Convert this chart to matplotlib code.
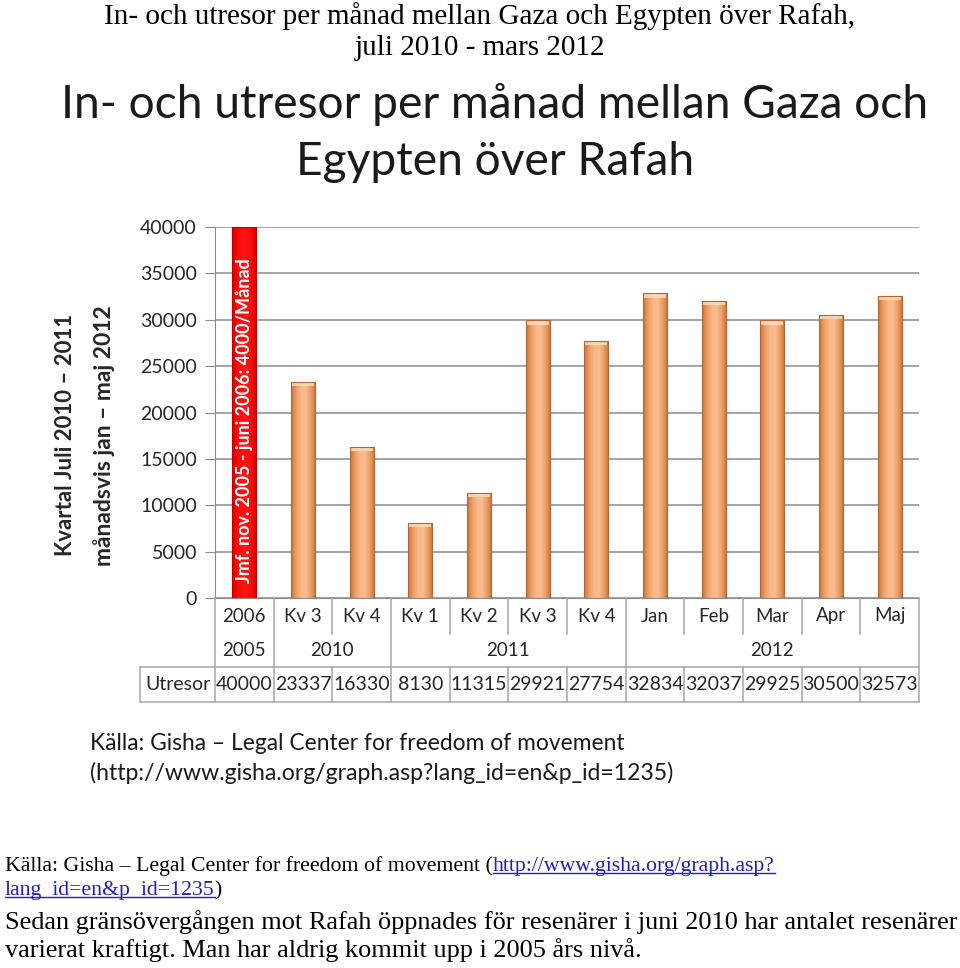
import matplotlib
matplotlib.use("Agg")
import matplotlib.pyplot as plt
import numpy as np
from matplotlib.colors import LinearSegmentedColormap
from matplotlib.lines import Line2D
from matplotlib.transforms import blended_transform_factory

# ── Data ──
categories = ["2006", "Kv 3", "Kv 4", "Kv 1", "Kv 2", "Kv 3", "Kv 4",
              "Jan", "Feb", "Mar", "Apr", "Maj"]
utresor = [40000, 23337, 16330, 8130, 11315, 29921, 27754,
           32834, 32037, 29925, 30500, 32573]
year_groups = [("2005", 0, 0), ("2010", 1, 2), ("2011", 3, 6), ("2012", 7, 11)]
y_ticks = [0, 5000, 10000, 15000, 20000, 25000, 30000, 35000, 40000]

W, H = 960, 968
SANS = "Lato"
SERIF = "Liberation Serif"
GRID = "#8C8C8C"
TABLE = "#A6A6A6"

fig = plt.figure(figsize=(W / 100, H / 100), dpi=100)
fig.patch.set_facecolor("white")


def fx(px):
    return px / W


def fy(py):
    return 1 - py / H


# plot area in pixels: x 215..919, y 227 (40000) .. 598 (0)
ax = fig.add_axes([fx(215), fy(598), fx(919) - fx(215), fy(227) - fy(598)])
ax.set_xlim(-0.5, len(categories) - 0.5)
ax.set_ylim(0, 40000)
for s in ["top", "right"]:
    ax.spines[s].set_visible(False)
ax.spines["left"].set_color(GRID)
ax.spines["bottom"].set_color(GRID)
ax.set_yticks(y_ticks)
ax.set_yticklabels([str(v) for v in y_ticks], fontsize=14, family=SANS,
                   color="#262626")
ax.tick_params(axis="y", length=7, color=GRID, pad=6)
ax.set_xticks([])
ax.yaxis.grid(True, color=GRID, linewidth=1.1)
ax.set_axisbelow(True)

# ── Bars ──
bar_w = 0.41
bars = ax.bar(range(len(utresor)), utresor, width=bar_w, zorder=2,
              color="#F4A470", edgecolor="#B0663A", linewidth=0.8)
orange = LinearSegmentedColormap.from_list(
    "orange", ["#C8733E", "#EF9D62", "#F8B88A", "#F9BC90", "#EF9D62", "#C8733E"])
red = LinearSegmentedColormap.from_list(
    "red", ["#D80000", "#FF0A0A", "#FF1414", "#FF0A0A", "#D80000"])
grad = np.linspace(0, 1, 64).reshape(1, -1)
for i, b in enumerate(bars):
    x0 = b.get_x()
    h = b.get_height()
    cmap = red if i == 0 else orange
    im = ax.imshow(grad, extent=[x0, x0 + bar_w, 0, h], aspect="auto",
                   cmap=cmap, zorder=2.5, interpolation="bicubic")
    im.set_clip_path(b)
    if i > 0:
        ax.bar(i, 450, bottom=h - 450, width=bar_w * 0.92, color="#FDE0BC",
               alpha=0.8, zorder=2.7, linewidth=0)
    b.set_facecolor("none")
    b.set_zorder(3)
ax.set_xlim(-0.5, len(categories) - 0.5)
ax.set_ylim(0, 40000)
bars[0].set_edgecolor("#C00000")

ax.text(0, 1600, "Jmf. nov. 2005 - juni 2006: 4000/Månad", rotation=90,
        ha="center", va="bottom", color="white", fontsize=13,
        fontweight="bold", family=SANS, zorder=4)

# ── Table under the axis ──
tr = blended_transform_factory(ax.transData, fig.transFigure)
lab_x = -0.5 - (215 - 140) / 58.7


def hline(x0, x1, py):
    fig.add_artist(Line2D([x0, x1], [fy(py), fy(py)], transform=tr,
                          color=TABLE, linewidth=1.1))


def vline(x, py0, py1):
    fig.add_artist(Line2D([x, x], [fy(py0), fy(py1)], transform=tr,
                          color=TABLE, linewidth=1.1))


group_edges = [-0.5] + [g[2] + 0.5 for g in year_groups]
for k in range(len(categories) + 1):
    xb = k - 0.5
    if xb in group_edges:
        vline(xb, 598, 702)
    else:
        vline(xb, 598, 634)
        vline(xb, 667, 702)
hline(lab_x, len(categories) - 0.5, 667)
hline(lab_x, len(categories) - 0.5, 702)
vline(lab_x, 667, 702)

for i, c in enumerate(categories):
    fig.text(i, fy(616), c, transform=tr, ha="center", va="center",
             fontsize=13.5, family=SANS, color="#262626")
    fig.text(i, fy(685), str(utresor[i]), transform=tr, ha="center",
             va="center", fontsize=14, family=SANS, color="#262626")
for name, a, b in year_groups:
    fig.text((a + b) / 2, fy(651), name, transform=tr, ha="center",
             va="center", fontsize=13.5, family=SANS, color="#262626")
fig.text((lab_x - 0.5) / 2, fy(685), "Utresor", transform=tr, ha="center",
         va="center", fontsize=14, family=SANS, color="#262626")

# ── Axis title (two rotated lines) ──
fig.text(fx(66), fy(435), "Kvartal Juli 2010 – 2011", rotation=90,
         ha="center", va="center", fontsize=16, fontweight="bold",
         family=SANS, color="#262626")
fig.text(fx(104), fy(436), "månadsvis jan – maj 2012", rotation=90,
         ha="center", va="center", fontsize=16.5, fontweight="bold",
         family=SANS, color="#262626")

# ── Titles ──
fig.text(0.5, fy(16), "In- och utresor per månad mellan Gaza och Egypten över Rafah,",
         ha="center", va="center", fontsize=21, family=SERIF)
fig.text(0.5, fy(48), "juli 2010 - mars 2012", ha="center", va="center",
         fontsize=21, family=SERIF)
fig.text(fx(495), fy(104), "In- och utresor per månad mellan Gaza och",
         ha="center", va="center", fontsize=33.2, family=SANS, color="#1a1a1a")
fig.text(fx(495), fy(162), "Egypten över Rafah", ha="center", va="center",
         fontsize=33.2, family=SANS, color="#1a1a1a")

# ── Source inside the image ──
fig.text(fx(90), fy(744), "Källa: Gisha – Legal Center for freedom of movement",
         ha="left", va="center", fontsize=16.4, family=SANS, color="#1a1a1a")
fig.text(fx(90), fy(773), "(http://www.gisha.org/graph.asp?lang_id=en&p_id=1235)",
         ha="left", va="center", fontsize=16.6, family=SANS, color="#1a1a1a")

# ── Source with link below ──
LINK = "#2020C0"
renderer = fig.canvas.get_renderer()


def piece(px, py, s, color="black", size=15.7, underline=False):
    t = fig.text(fx(px), fy(py), s, ha="left", va="baseline", fontsize=size,
                 family=SERIF, color=color)
    bb = t.get_window_extent(renderer)
    if underline:
        fig.add_artist(Line2D([fx(bb.x0), fx(bb.x1)],
                              [fy(py + 2), fy(py + 2)], color=color,
                              linewidth=1.0))
    return bb.x1


x_end = piece(5, 871, "Källa: Gisha – Legal Center for freedom of movement (")
piece(x_end, 871, "http://www.gisha.org/graph.asp?", color=LINK, underline=True)
x_end = piece(5, 895, "lang_id=en&p_id=1235", color=LINK, underline=True)
piece(x_end, 895, ")")

fig.text(fx(5), fy(929),
         "Sedan gränsövergången mot Rafah öppnades för resenärer i juni 2010 har antalet resenärer",
         ha="left", va="baseline", fontsize=18.9, family=SERIF)
fig.text(fx(5), fy(957), "varierat kraftigt. Man har aldrig kommit upp i 2005 års nivå.",
         ha="left", va="baseline", fontsize=18.9, family=SERIF)

fig.savefig("out.png", dpi=100)
